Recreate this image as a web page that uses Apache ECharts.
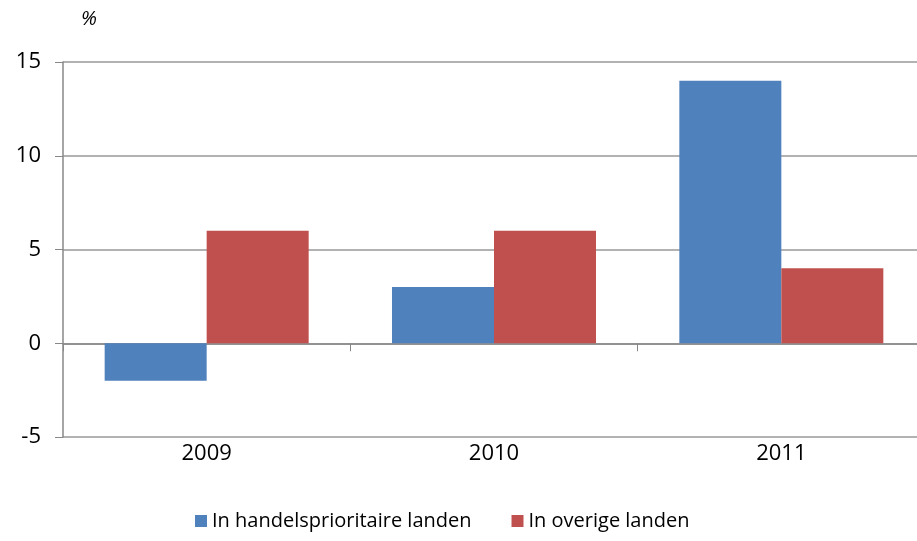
<!DOCTYPE html>
<html><head><meta charset="utf-8">
<script src="https://cdn.jsdelivr.net/npm/echarts@6/dist/echarts.min.js"></script>
<style>html,body{margin:0;padding:0;background:#fff;overflow:hidden}#c{width:926px;height:541px}</style>
</head><body><div id="c"></div>
<script>
const categories = ['2009', '2010', '2011'];
const seriesNames = ['In handelsprioritaire landen', 'In overige landen'];
const prioritaire = [-2, 3, 14];
const overige = [6, 6, 4];
const yTicks = {min: -5, max: 15, interval: 5};

const chart = echarts.init(document.getElementById('c'));
const font = '"Open Sans", "Noto Sans", sans-serif';
chart.setOption({
  animation: false,
  textStyle: {fontFamily: font},
  graphic: [{type: 'text', left: 81, top: 9, style: {text: '%', font: 'italic 20px ' + font, fill: '#000'}}],
  legend: {
    bottom: 5, left: 190, itemWidth: 12, itemHeight: 12, itemGap: 40, icon: 'rect',
    textStyle: {fontSize: 20, color: '#000', fontFamily: font},
    data: seriesNames
  },
  grid: {left: 63, top: 62, width: 862, height: 375, containLabel: false},
  xAxis: [{
    type: 'category', data: categories,
    axisLine: {onZero: true, lineStyle: {color: '#888', width: 1.5}},
    axisTick: {show: true, length: 8, lineStyle: {color: '#888'}},
    axisLabel: {show: false}
  }, {
    type: 'category', data: categories, position: 'bottom',
    axisLine: {show: false, onZero: false}, axisTick: {show: false},
    axisLabel: {show: true, fontSize: 22, color: '#000', margin: 6, fontFamily: font}
  }],
  yAxis: {
    type: 'value', min: yTicks.min, max: yTicks.max, interval: yTicks.interval,
    axisLine: {show: true, lineStyle: {color: '#888', width: 1.5}},
    axisTick: {show: true, length: 8, lineStyle: {color: '#888'}},
    axisLabel: {fontSize: 22, color: '#000', margin: 22, fontFamily: font},
    splitLine: {lineStyle: {color: '#999', width: 1.5}}
  },
  series: [{
    name: seriesNames[0], type: 'bar', data: prioritaire, xAxisIndex: 0,
    barGap: '0%', barCategoryGap: '29%', itemStyle: {color: '#4F81BD'}
  }, {
    name: seriesNames[1], type: 'bar', data: overige, xAxisIndex: 0,
    barGap: '0%', barCategoryGap: '29%', itemStyle: {color: '#C0504D'}
  }]
});
</script></body></html>
